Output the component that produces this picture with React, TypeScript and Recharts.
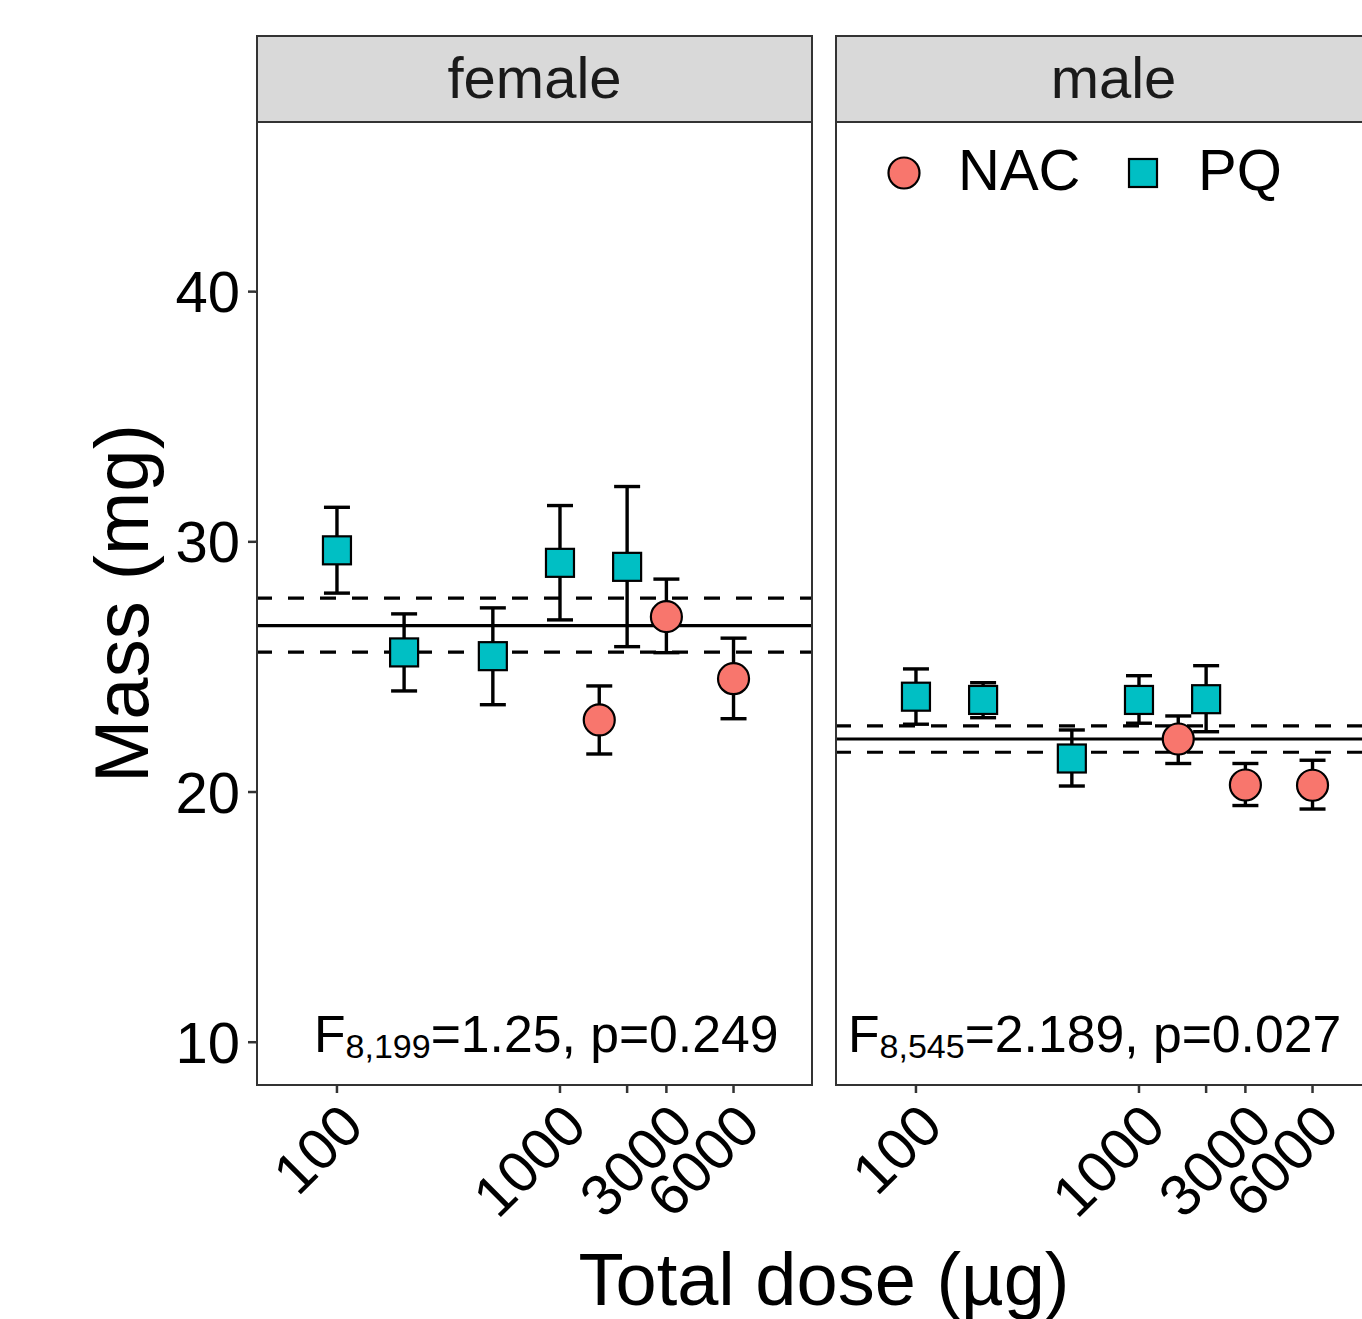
import React from 'react';
import { ScatterChart, Scatter, XAxis, YAxis, ErrorBar, ReferenceLine, Legend } from 'recharts';

const FONT = '"Liberation Sans", Arial, Helvetica, sans-serif';
const NAC_COLOR = '#F8766D';
const PQ_COLOR = '#00BFC4';
const FRAME = '#333333';

// doses (µg) per treatment
const pqDoses = [100, 200, 500, 1000, 2000];
const nacDoses = [1500, 3000, 6000];
const doseTicks = [100, 1000, 2000, 3000, 6000];
const labelledTicks = [100, 1000, 3000, 6000];
const massTicks = [10, 20, 30, 40];

// female
const femalePqMean = [29.66, 25.58, 25.43, 29.16, 29.0];
const femalePqLower = [27.95, 24.04, 23.49, 26.88, 25.81];
const femalePqUpper = [31.38, 27.12, 27.36, 31.45, 32.21];
const femaleNacMean = [22.88, 27.01, 24.53];
const femaleNacLower = [21.52, 25.57, 22.93];
const femaleNacUpper = [24.24, 28.51, 26.15];
const femaleFit = [25.59, 26.65, 27.75]; // lower CI, estimate, upper CI

// male
const malePqMean = [23.81, 23.68, 21.34, 23.68, 23.71];
const malePqLower = [22.71, 22.97, 20.24, 22.75, 22.41];
const malePqUpper = [24.92, 24.37, 22.48, 24.65, 25.05];
const maleNacMean = [22.12, 20.28, 20.27];
const maleNacLower = [21.14, 19.46, 19.32];
const maleNacUpper = [23.04, 21.14, 21.27];
const maleFit = [21.59, 22.12, 22.64];

const xDomain = [43.35, 13630];
const yDomain = [8.29, 46.78];

const rows = (doses: number[], mean: number[], lower: number[], upper: number[]) =>
  doses.map((d, i) => ({ dose: d, mass: mean[i], err: [mean[i] - lower[i], upper[i] - mean[i]] }));

const CircleShape = (p: any) => (
  <circle cx={p.cx} cy={p.cy} r={15.5} fill={NAC_COLOR} stroke="#000" strokeWidth={2.2} />
);
const SquareShape = (p: any) => (
  <rect x={p.cx - 14} y={p.cy - 14} width={28} height={28} fill={PQ_COLOR} stroke="#000" strokeWidth={2.2} />
);

const LegendBox = () => (
  <svg width={480} height={70} style={{ overflow: 'visible' }}>
    <circle cx={34} cy={33} r={15.5} fill={NAC_COLOR} stroke="#000" strokeWidth={2.2} />
    <text x={88} y={50} fontSize={58} fontFamily={FONT} fill="#000">NAC</text>
    <rect x={259} y={19} width={28} height={28} fill={PQ_COLOR} stroke="#000" strokeWidth={2.2} />
    <text x={328} y={50} fontSize={58} fontFamily={FONT} fill="#000">PQ</text>
  </svg>
);

type FacetProps = {
  left: number;
  width: number;
  margin: { top: number; right: number; bottom: number; left: number };
  showY: boolean;
  pq: any[];
  nac: any[];
  fit: number[];
  legend?: boolean;
};

function Facet({ left, width, margin, showY, pq, nac, fit, legend }: FacetProps) {
  const tickStyle = { fontSize: 58, fontFamily: FONT, fill: '#000' };
  return (
    <div style={{ position: 'absolute', left, top: 0 }}>
      <ScatterChart width={width} height={1319} margin={margin}>
        <XAxis
          type="number"
          dataKey="dose"
          scale="log"
          domain={xDomain}
          allowDataOverflow
          ticks={doseTicks}
          tickFormatter={(v: number) => (labelledTicks.includes(v) ? String(v) : '')}
          interval={0}
          height={150}
          axisLine={false}
          stroke={FRAME}
          tickSize={8}
          tickMargin={7}
          tickLine={{ stroke: FRAME, strokeWidth: 2.5 }}
          angle={-45}
          textAnchor="end"
          tick={tickStyle}
        />
        <YAxis
          type="number"
          dataKey="mass"
          domain={yDomain}
          allowDataOverflow
          ticks={massTicks}
          hide={!showY}
          width={showY ? 100 : 0}
          axisLine={false}
          stroke={FRAME}
          tickSize={8}
          tickMargin={8}
          tickLine={{ stroke: FRAME, strokeWidth: 2.5 }}
          tick={tickStyle}
        />
        <Scatter data={pq} shape={SquareShape} isAnimationActive={false}>
          <ErrorBar dataKey="err" direction="y" width={13} stroke="#000" strokeWidth={3.4} />
        </Scatter>
        <Scatter data={nac} shape={CircleShape} isAnimationActive={false}>
          <ErrorBar dataKey="err" direction="y" width={13} stroke="#000" strokeWidth={3.4} />
        </Scatter>
        <ReferenceLine y={fit[1]} stroke="#000" strokeWidth={3.2} />
        <ReferenceLine y={fit[0]} stroke="#000" strokeWidth={3.2} strokeDasharray="16 16" />
        <ReferenceLine y={fit[2]} stroke="#000" strokeWidth={3.2} strokeDasharray="16 16" />
        {legend && (
          <Legend
            verticalAlign="middle"
            align="center"
            layout="horizontal"
            wrapperStyle={{ left: 40, top: 140, width: 480, height: 70 }}
            content={() => <LegendBox />}
          />
        )}
      </ScatterChart>
    </div>
  );
}

const stripStyle = (left: number): React.CSSProperties => ({
  position: 'absolute',
  left,
  top: 35,
  width: 557,
  height: 88,
  boxSizing: 'border-box',
  background: '#D9D9D9',
  border: `2.5px solid ${FRAME}`,
  fontFamily: FONT,
  fontSize: 58,
  color: '#1A1A1A',
  textAlign: 'center',
  lineHeight: '82px',
});

const frameStyle = (left: number): React.CSSProperties => ({
  position: 'absolute',
  left,
  top: 121,
  width: 557,
  height: 965,
  boxSizing: 'border-box',
  border: `2.5px solid ${FRAME}`,
  pointerEvents: 'none',
});

export default function App() {
  return (
    <div style={{ position: 'absolute', left: 0, top: 0, width: 1362, height: 1319, overflow: 'hidden', background: '#fff' }}>
      <Facet
        left={0}
        width={830}
        margin={{ top: 122, right: 17, bottom: 84, left: 156 }}
        showY
        pq={rows(pqDoses, femalePqMean, femalePqLower, femalePqUpper)}
        nac={rows(nacDoses, femaleNacMean, femaleNacLower, femaleNacUpper)}
        fit={femaleFit}
      />
      <Facet
        left={830}
        width={582}
        margin={{ top: 122, right: 20, bottom: 84, left: 5 }}
        showY={false}
        pq={rows(pqDoses, malePqMean, malePqLower, malePqUpper)}
        nac={rows(nacDoses, maleNacMean, maleNacLower, maleNacUpper)}
        fit={maleFit}
        legend
      />
      <div style={frameStyle(256)} />
      <div style={frameStyle(835)} />
      <div style={stripStyle(256)}>female</div>
      <div style={stripStyle(835)}>male</div>
      <svg width={1362} height={1319} style={{ position: 'absolute', left: 0, top: 0, pointerEvents: 'none' }}>
        <text x={314} y={1052} fontSize={51.7} fontFamily={FONT} fill="#000">
          F<tspan fontSize={34} dy={6}>8,199</tspan>
          <tspan dy={-6}>=1.25, p=0.249</tspan>
        </text>
        <text x={848} y={1052} fontSize={51.7} fontFamily={FONT} fill="#000">
          F<tspan fontSize={34} dy={6}>8,545</tspan>
          <tspan dy={-6}>=2.189, p=0.027</tspan>
        </text>
        <text x={824} y={1305} fontSize={74} fontFamily={FONT} fill="#000" textAnchor="middle">
          Total dose (µg)
        </text>
        <text
          x={148}
          y={603.5}
          fontSize={76}
          fontFamily={FONT}
          fill="#000"
          textAnchor="middle"
          transform="rotate(-90 148 603.5)"
        >
          Mass (mg)
        </text>
      </svg>
    </div>
  );
}
